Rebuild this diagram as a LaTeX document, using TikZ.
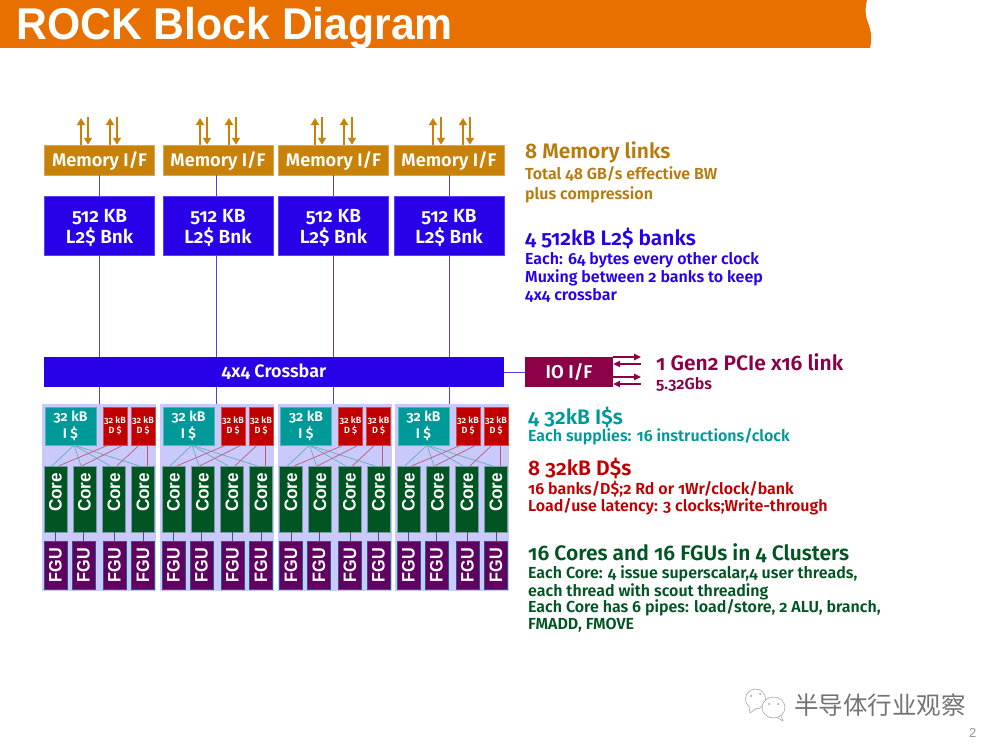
\documentclass[tikz,border=0pt]{standalone}
\usepackage{fontspec}
\setmainfont[Numbers=OldStyle,BoldFont={Fira Sans SemiBold}]{Fira Sans}
\newfontfamily\arialfont{Liberation Sans}
\newfontfamily\cjkfont{Noto Sans CJK SC}
\usetikzlibrary{arrows.meta}
\definecolor{orangebar}{HTML}{E87000}
\definecolor{memc}{HTML}{C8820A}
\definecolor{memtxt}{HTML}{B87A0A}
\definecolor{bluec}{HTML}{2A00E8}
\definecolor{linec}{HTML}{5A3CE0}
\definecolor{clbg}{HTML}{C9C9FB}
\definecolor{tealc}{HTML}{009999}
\definecolor{redc}{HTML}{C00000}
\definecolor{greenc}{HTML}{005522}
\definecolor{purplec}{HTML}{600060}
\definecolor{ioc}{HTML}{8B0046}
\definecolor{tealline}{HTML}{5FB0B8}
\definecolor{redline}{HTML}{C05A70}
\definecolor{coreline}{HTML}{505070}
\newcommand{\fs}[1]{\fontsize{#1}{#1}\selectfont}
\newcommand{\rotc}[1]{\rotatebox{90}{\hspace{13pt}\scalebox{.95}[1]{#1}}}
\newcommand{\rotf}[1]{\rotatebox{90}{\scalebox{.9}[1]{#1}}}
\tikzset{
  x=1pt,y=-1pt,
  boxbase/.style={inner sep=0pt,text=white,font=\bfseries\fs{#1},align=center},
  membox/.style={boxbase=18.2,fill=memc,draw=memc!70!white,line width=.5pt,minimum width=110pt,minimum height=30pt},
  l2box/.style={boxbase=19,fill=bluec,draw=bluec!75!white,line width=.5pt,minimum width=110pt,minimum height=59pt},
  ibox/.style={boxbase=14,fill=tealc,draw=tealc!70!white,line width=.4pt,minimum width=51pt,minimum height=38pt},
  dbox/.style={boxbase=9,fill=redc,draw=redc!70!white,line width=.4pt,minimum width=24pt,minimum height=38pt},
  corebox/.style={inner sep=0pt,text=white,font=\arialfont\bfseries\fs{18},fill=greenc,draw=clbg!60!greenc,line width=.4pt,minimum width=23pt,minimum height=66pt},
  fgubox/.style={inner sep=0pt,text=white,font=\arialfont\bfseries\fs{18},fill=purplec,draw=tealc!60!purplec,line width=.5pt,minimum width=23pt,minimum height=48pt},
  clbox/.style={fill=clbg,draw=none,minimum width=114pt,minimum height=187pt,inner sep=0pt},
  bus/.style={draw=linec,line width=.8pt},
  memup/.style={draw=memc,line width=1.7pt,-{Triangle[length=7pt,width=8pt]}},
  memdown/.style={draw=memc,line width=2.3pt,-{Triangle[length=7pt,width=8pt]}},
  ioarrow/.style={draw=ioc,line width=1.3pt,-{Triangle[length=7pt,width=6.5pt]}},
  il/.style={draw=tealline,line width=.7pt},
  dl/.style={draw=redline,line width=.7pt},
  cl/.style={draw=coreline,line width=.9pt},
  txt/.style={anchor=base west,inner sep=0pt,font=\bfseries\fs{#1}},
  wc/.style={draw=black!35,line width=.6pt,fill=white},
}
\begin{document}
\begin{tikzpicture}
\useasboundingbox (0,0) rectangle (1000,749);
\fill[white] (0,0) rectangle (1000,749);
% title band
\fill[orangebar] (0,0) -- (867,0) .. controls (865,8) and (865,14) .. (867,20) .. controls (870,28) and (873,36) .. (870,48) -- (0,48) -- cycle;
\node[anchor=base west,inner sep=0pt,text=white,font=\arialfont\bfseries\fs{44.5}] (title) at (16,40) {\scalebox{.96}[1]{ROCK Block Diagram}};
% bus coordinates
\coordinate (bus1) at (99.7,372);
\coordinate (bus2) at (216,372);
\coordinate (bus3) at (333,372);
\coordinate (bus4) at (449,372);
% top row
\foreach \c/\x in {1/99.6,2/218,3/333.5,4/449}{
  \node[membox] (m\c) at (\x,160) {\rule{0pt}{17pt}Memory I/F};
  \node[l2box] (l\c) at (\x,225.5) {\rule{0pt}{19pt}512 KB\\[2pt]L2\$ Bnk};
}
\node[boxbase=18,fill=bluec,minimum width=460pt,minimum height=30pt] (xbar) at (274,372) {4x4 Crossbar};
\node[boxbase=18.5,fill=ioc,minimum width=88pt,minimum height=30pt] (io) at (569,372) {IO I/F};
\draw[bus] (xbar.east) -- (io.west);
% clusters
\foreach \c/\o in {1/0,2/118,3/235.5,4/353}{
  \node[clbox] (bg\c) at (99+\o,497.5) {};
  \node[ibox] (i\c) at (70.5+\o,426) {\raisebox{-1pt}{32 kB}\\[3pt]\raisebox{-1pt}{I \$}};
  \node[dbox] (da\c) at (115+\o,426) {32 kB\\[1.5pt]D \$};
  \node[dbox] (db\c) at (143+\o,426) {32 kB\\[1.5pt]D \$};
  \foreach \k/\x in {1/55.5,2/84.5,3/114,4/143}
    \node[corebox] (c\c\k) at (\x+\o,499) {\rotc{Core}};
  \foreach \k/\x in {1/55.5,2/83.5,3/114.5,4/143}
    \node[fgubox] (f\c\k) at (\x+\o,565) {\rotf{FGU}};
  \foreach \k in {1,2,3,4}
    \draw[cl] (f\c\k.north |- c\c\k.south) -- (f\c\k.north);
  % I$ to cores
  \draw[il] ([xshift=3.5pt]i\c.south) -- ([xshift=-3.5pt]c\c1.north);
  \draw[il] ([xshift=3.5pt]i\c.south) -- ([xshift=-3.5pt]c\c2.north);
  \draw[il] ([xshift=3.5pt]i\c.south) -- ([xshift=-4pt]c\c3.north);
  \draw[il] ([xshift=3.5pt]i\c.south) -- ([xshift=-4pt]c\c4.north);
  % D$ to cores
  \draw[dl] ([xshift=-7pt]da\c.south) -- ([xshift=3.5pt]c\c1.north);
  \draw[dl] ([xshift=8pt]da\c.south) -- ([xshift=-2.5pt]c\c2.north);
  \draw[dl] ([xshift=-4pt]db\c.south) -- ([xshift=3pt]c\c3.north);
  \draw[dl] ([xshift=4pt]db\c.south) -- ([xshift=4pt]c\c4.north);
}
\foreach \c in {1,2,3,4}{
  \draw[bus] (m\c.south -| bus\c) -- (l\c.north -| bus\c);
  \draw[bus] (l\c.south -| bus\c) -- (xbar.north -| bus\c);
  \draw[bus] (xbar.south -| bus\c) -- (bg\c.north -| bus\c);
}
% memory arrows
\foreach \c/\xa/\xb/\xc/\xd in {1/81/88/110/117,2/200/207/229/236,3/315/322/344/352,4/433/441/463/470}{
  \coordinate (ua\c) at (\xa,118);
  \coordinate (ub\c) at (\xb,117);
  \coordinate (uc\c) at (\xc,118);
  \coordinate (ud\c) at (\xd,117);
  \draw[memup] (m\c.north -| ua\c) -- (ua\c);
  \draw[memdown] (ub\c) -- (m\c.north -| ub\c);
  \draw[memup] (m\c.north -| uc\c) -- (uc\c);
  \draw[memdown] (ud\c) -- (m\c.north -| ud\c);
}
% io arrows
\coordinate (ioa) at (641,357);
\coordinate (iob) at (641,364);
\coordinate (ioc) at (641,377);
\coordinate (iod) at (641,384);
\draw[ioarrow] (io.east |- ioa) -- (ioa);
\draw[ioarrow] (iob) -- (io.east |- iob);
\draw[ioarrow] (io.east |- ioc) -- (ioc);
\draw[ioarrow] (iod) -- (io.east |- iod);
% side text
\node[txt=21,text=memtxt] (t1) at (525,158) {8 Memory links};
\node[txt=16,text=memtxt] (t2) at (525,179) {Total 48 GB/s effective BW};
\node[txt=16,text=memtxt] (t3) at (525,199) {plus compression};
\node[txt=21,text=bluec] (t4) at (525,245) {4 512kB L2\$ banks};
\node[txt=16,text=bluec] (t5) at (525,264) {Each: 64 bytes every other clock};
\node[txt=16,text=bluec] (t6) at (525,282) {Muxing between 2 banks to keep};
\node[txt=16,text=bluec] (t7) at (525,300) {4x4 crossbar};
\node[txt=21,text=ioc] (t8) at (656,370) {1 Gen2 PCIe x16 link};
\node[txt=16,text=ioc] (t9) at (656,389) {5.32Gbs};
\node[txt=21,text=tealc] (t10) at (528,424) {4 32kB I\$s};
\node[txt=16,text=tealc] (t11) at (528,441) {Each supplies: 16 instructions/clock};
\node[txt=21,text=redc] (t12) at (528,475) {8 32kB D\$s};
\node[txt=16,text=redc] (t13) at (528,494) {16 banks/D\$;2 Rd or 1Wr/clock/bank};
\node[txt=16,text=redc] (t14) at (528,511) {Load/use latency: 3 clocks;Write-through};
\node[txt=21,text=greenc] (t15) at (528,560) {16 Cores and 16 FGUs in 4 Clusters};
\node[txt=16,text=greenc] (t16) at (528,578) {Each Core: 4 issue superscalar,4 user threads,};
\node[txt=16,text=greenc] (t17) at (528,596) {each thread with scout threading};
\node[txt=16,text=greenc] (t18) at (528,612) {Each Core has 6 pipes: load/store, 2 ALU, branch,};
\node[txt=16,text=greenc] (t19) at (528,629) {FMADD, FMOVE};
% watermark
\draw[wc] (755.5,699) ellipse (10 and 10);
\draw[wc] (749,707) -- (750,713) -- (757,708);
\fill[black!40] (751,696) circle (1);
\fill[black!40] (760,694) circle (1);
\draw[wc] (781,715) -- (783,721) -- (776,717);
\draw[wc] (773.5,707.5) ellipse (11.5 and 10.5);
\fill[black!40] (769,704) circle (1);
\fill[black!40] (778,704) circle (1);
\node[anchor=base west,inner sep=0pt,text=black!55,font=\cjkfont\fs{24.5}] (wm) at (794,714) {半导体行业观察};
\node[anchor=base west,inner sep=0pt,text=black!40,font=\arialfont\fs{13}] (pg) at (969,737) {2};
\end{tikzpicture}
\end{document}
